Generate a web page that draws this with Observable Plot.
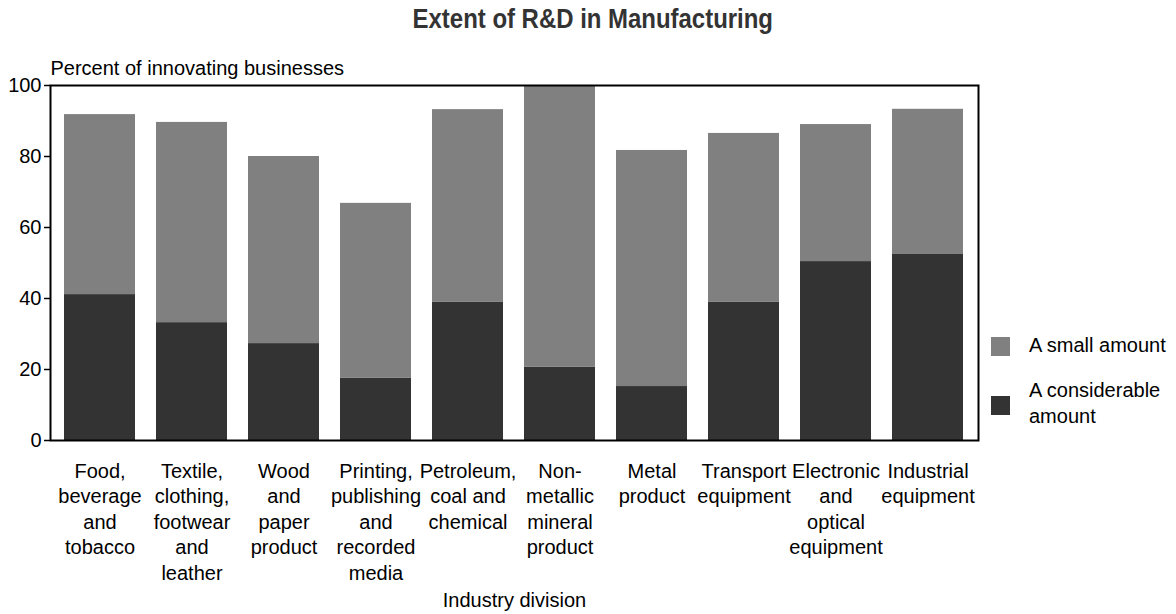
<!DOCTYPE html>
<html>
<head>
<meta charset="utf-8">
<script src="https://cdn.jsdelivr.net/npm/d3@7"></script>
<script src="https://cdn.jsdelivr.net/npm/@observablehq/plot@0.6"></script>
<style>
  html, body { margin: 0; padding: 0; background: #fff; }
  #wrap { position: relative; width: 1176px; height: 614px; font-family: "Liberation Sans", Arial, sans-serif; }
  #title { position: absolute; top: 0; left: 0; width: 1176px; height: 50px; text-align: center; }
  #title span { display: inline-block; margin-left: 10px; font-family: "Liberation Sans", Arial, sans-serif; font-weight: bold; font-size: 28px; line-height: 38px; color: #333; transform: scaleX(0.855); transform-origin: center; }
  #chart { position: absolute; top: 50px; left: 0; }
  .lg { position: absolute; font-size: 20px; color: #000; line-height: 26px; }
  .sw { position: absolute; width: 19px; height: 19px; }
</style>
</head>
<body>
<div id="wrap">
  <div id="title"><span>Extent of R&amp;D in Manufacturing</span></div>
  <div id="chart"></div>
  <div class="sw" style="left:991px;top:337px;background:#808080"></div>
  <div class="lg" style="left:1029px;top:332px">A small amount</div>
  <div class="sw" style="left:991px;top:396px;background:#333333"></div>
  <div class="lg" style="left:1029px;top:377px">A considerable<br>amount</div>
</div>
<script>
const categories = ["Food", "Textile", "Wood", "Printing", "Petroleum", "Non-metallic", "Metal", "Transport", "Electronic", "Industrial"];
const tickLabels = [
  "Food,\nbeverage\nand\ntobacco",
  "Textile,\nclothing,\nfootwear\nand\nleather",
  "Wood\nand\npaper\nproduct",
  "Printing,\npublishing\nand\nrecorded\nmedia",
  "Petroleum,\ncoal and\nchemical",
  "Non-\nmetallic\nmineral\nproduct",
  "Metal\nproduct",
  "Transport\nequipment",
  "Electronic\nand\noptical\nequipment",
  "Industrial\nequipment"
];
const considerable = [41.1, 33.2, 27.3, 17.5, 38.9, 20.6, 15.2, 38.9, 50.4, 52.4];
const small = [50.7, 56.4, 52.7, 49.3, 54.3, 79.4, 66.5, 47.6, 38.6, 40.9];
const seriesNames = ["A considerable amount", "A small amount"];
const seriesColors = ["#333333", "#808080"];
const yTicks = [0, 20, 40, 60, 80, 100];

const rows = [];
categories.forEach((c, i) => {
  rows.push({cat: c, series: seriesNames[0], value: considerable[i]});
  rows.push({cat: c, series: seriesNames[1], value: small[i]});
});
const labelOf = new Map(categories.map((c, i) => [c, tickLabels[i]]));

const chart = Plot.plot({
  width: 1176,
  height: 564,
  marginTop: 35,
  marginBottom: 174,
  marginLeft: 50,
  marginRight: 198,
  style: {fontFamily: '"Liberation Sans", Arial, sans-serif', fontSize: "20px", color: "#000", background: "#fff"},
  x: {domain: categories, paddingInner: 0.223, paddingOuter: 0.119, axis: null},
  y: {domain: [0, 100], axis: null},
  color: {domain: seriesNames, range: seriesColors},
  marks: [
    Plot.barY(rows, Plot.stackY({x: "cat", y: "value", fill: "series", order: seriesNames})),
    Plot.axisY({ticks: yTicks, tickSize: 6, tickPadding: 3, fontSize: 20, label: null, stroke: "#000", strokeWidth: 1.5}),
    Plot.axisX({tickSize: 0, tickPadding: 19, fontSize: 20, lineHeight: 1.28, label: null, tickFormat: d => labelOf.get(d)}),
    Plot.text(["Percent of innovating businesses"], {frameAnchor: "top-left", text: d => d, textAnchor: "start", dy: -17, fontSize: 20, lineAnchor: "middle"}),
    Plot.text(["Industry division"], {frameAnchor: "bottom", text: d => d, dy: 160, fontSize: 20, lineAnchor: "middle"}),
    Plot.frame({stroke: "#000", strokeWidth: 2})
  ]
});
document.getElementById("chart").appendChild(chart);
</script>
</body>
</html>
